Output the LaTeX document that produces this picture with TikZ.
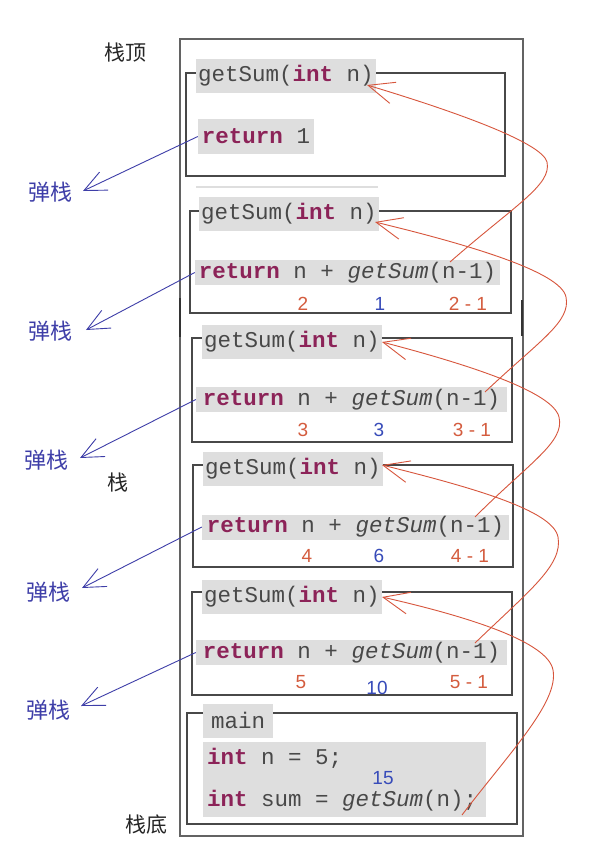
\documentclass[tikz,border=0pt]{standalone}
\usepackage{fontspec}
\newfontfamily\codefont{Liberation Mono}
\newfontfamily\cjkfont{Noto Sans CJK SC}
\newfontfamily\numfont{Liberation Sans}
\usetikzlibrary{arrows.meta}
\definecolor{redc}{RGB}{215,85,60}
\definecolor{numred}{RGB}{212,92,62}
\definecolor{numblue}{RGB}{55,75,185}
\definecolor{bluec}{RGB}{62,62,168}
\definecolor{codec}{RGB}{72,72,72}
\definecolor{kwc}{RGB}{140,35,88}
\definecolor{hlgray}{RGB}{222,222,222}
\definecolor{boxc}{RGB}{72,72,72}
\newcommand\kw[1]{{\bfseries\color{kwc}#1}}
\newcommand\gsm{{\itshape getSum}}
\tikzset{
  codefnt/.style={font=\codefont\fontsize{22.5}{26}\selectfont, text=codec},
  framebox/.style={draw=boxc, line width=1.3pt},
  outerbox/.style={draw=boxc!85, line width=1.6pt},
  hdr/.style={codefnt, fill=hlgray, inner xsep=2pt, inner ysep=0pt, minimum height=34pt, anchor=west},
  retbar/.style={codefnt, fill=hlgray, inner sep=0pt, minimum height=25pt},
  codeline/.style={codefnt, anchor=west, inner sep=0pt},
  numr/.style={font=\numfont\fontsize{19}{22}\selectfont, text=numred, inner sep=0pt},
  numb/.style={font=\numfont\fontsize{19}{22}\selectfont, text=numblue, inner sep=0pt},
  poplbl/.style={font=\cjkfont\fontsize{22}{26}\selectfont, text=bluec, inner sep=0pt},
  sidelbl/.style={font=\cjkfont\fontsize{21}{26}\selectfont, text=black!85, inner sep=0pt},
  popar/.style={draw=bluec, line width=0.9pt, -{Straight Barb[length=22pt,width=20pt]}},
  callar/.style={draw=redc, line width=0.9pt, -{Straight Barb[length=26pt,width=22pt]}}
}
\begin{document}
\begin{tikzpicture}[x=1pt,y=-1pt]
\useasboundingbox[fill=white] (0,0) rectangle (601,864);

% outer stack
\draw[outerbox] (180,39) rectangle (523,836);
\draw[line width=2.6pt, black!80] (180,298) -- (180,337);
\draw[line width=2.6pt, black!80] (522,300) -- (522,336);

% side labels
\node[sidelbl] (top) at (125,53) {栈顶};
\node[sidelbl] (mid) at (118,483) {栈};
\node[sidelbl] (bot) at (146,825) {栈底};

% frame 1
\draw[framebox] (186,73) rectangle (505,176);
\node[hdr] (h1) at (196,76) {getSum(\kw{int} n)};
\node[codefnt, fill=hlgray, inner sep=0pt, minimum width=116pt, minimum height=35pt] (r1) at (256,136.5) {\kw{return} 1};
\draw[hlgray, line width=1.6pt] (196,187) -- (378,187);

% frame 2
\draw[framebox] (190,211) rectangle (511,313);
\node[hdr] (h2) at (199,214) {getSum(\kw{int} n)};
\node[retbar, minimum width=305pt] (r2) at (347.5,272.5) {\kw{return} n + \gsm(n-1)};
\node[numr] (a2) at (303,304) {2};
\node[numb] (b2) at (380,304) {1};
\node[numr] (d2) at (468,304) {2 - 1};

% frame 3
\draw[framebox] (192,338) rectangle (512,442);
\node[hdr] (h3) at (202,341.5) {getSum(\kw{int} n)};
\node[retbar, minimum width=311pt] (r3) at (351.5,399.5) {\kw{return} n + \gsm(n-1)};
\node[numr] (a3) at (303,430) {3};
\node[numb] (b3) at (379,430) {3};
\node[numr] (d3) at (472,430) {3 - 1};

% frame 4
\draw[framebox] (193,465) rectangle (513,567);
\node[hdr] (h4) at (203,469) {getSum(\kw{int} n)};
\node[retbar, minimum width=307pt] (r4) at (355.5,527) {\kw{return} n + \gsm(n-1)};
\node[numr] (a4) at (307,556) {4};
\node[numb] (b4) at (379,556) {6};
\node[numr] (d4) at (470,556) {4 - 1};

% frame 5
\draw[framebox] (192,592) rectangle (512,695);
\node[hdr] (h5) at (202,597) {getSum(\kw{int} n)};
\node[retbar, minimum width=311pt] (r5) at (351.5,652.5) {\kw{return} n + \gsm(n-1)};
\node[numr] (a5) at (301,682) {5};
\node[numb] (b5) at (377,688) {10};
\node[numr] (d5) at (469,682) {5 - 1};

% main frame
\draw[framebox] (187,713) rectangle (517,824);
\node[hdr, minimum width=70pt, inner xsep=0pt] (hm) at (203,720.5) {main};
\node[fill=hlgray, inner sep=0pt, minimum width=283pt, minimum height=75pt] (mb) at (344.5,779.5) {};
\node[codeline] (l1) at (207,758) {\kw{int} n = 5;};
\node[codeline] (l2) at (207,801) {\kw{int} sum = \gsm(n);};
\node[numb] (b6) at (383,778) {15};

% pop labels and arrows
\node[poplbl] (p1) at (50,192) {弹栈};
\node[poplbl] (p2) at (50,331) {弹栈};
\node[poplbl] (p3) at (46,460) {弹栈};
\node[poplbl] (p4) at (48,592) {弹栈};
\node[poplbl] (p5) at (48,710) {弹栈};
\coordinate (q1) at (83,191);
\coordinate (q2) at (86,330);
\coordinate (q3) at (80,458);
\coordinate (q4) at (82,588);
\coordinate (q5) at (81,706);
\draw[popar] (r1.west) -- (q1);
\draw[popar] (r2.west) -- (q2);
\draw[popar] (r3.west) -- (q3);
\draw[popar] (r4.west) -- (q4);
\draw[popar] (r5.west) -- (q5);

% call arrows (red)
\coordinate (s2) at (450,262);
\coordinate (s3) at (485,392);
\coordinate (s4) at (475,517);
\coordinate (s5) at (475,643);
\coordinate (sm) at (462,815);
\coordinate (t1) at (367,85);
\coordinate (t2) at (375,222);
\coordinate (t3) at (382,342);
\coordinate (t4) at (382,465);
\coordinate (t5) at (382,597);
\draw[callar] (s2) .. controls (515,205) and (552,185) .. (547,162) .. controls (542,142) and (450,110) .. (t1);
\draw[callar] (s3) .. controls (540,340) and (571,322) .. (566,297) .. controls (561,272) and (470,245) .. (t2);
\draw[callar] (s4) .. controls (530,462) and (565,442) .. (559,417) .. controls (553,392) and (470,365) .. (t3);
\draw[callar] (s5) .. controls (530,590) and (563,565) .. (558,537) .. controls (553,510) and (470,487) .. (t4);
\draw[callar] (sm) .. controls (510,752) and (559,702) .. (553,670) .. controls (548,642) and (470,617) .. (t5);
\end{tikzpicture}
\end{document}
